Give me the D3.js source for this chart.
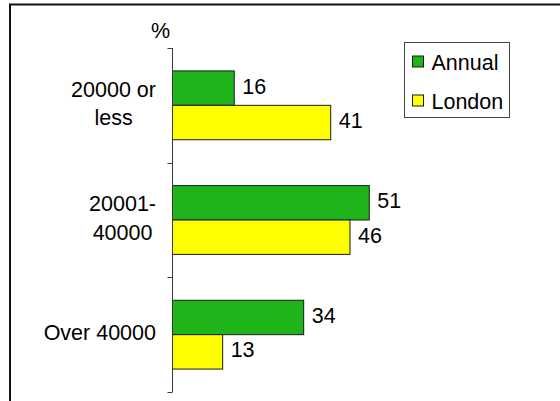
<!DOCTYPE html>
<html>
<head>
<meta charset="utf-8">
<script src="https://cdn.jsdelivr.net/npm/d3@7"></script>
<style>
  html, body { margin: 0; padding: 0; background: #fff; }
  svg { display: block; }
  text { font-family: "Liberation Sans", Arial, sans-serif; fill: #000; }
</style>
</head>
<body>
<svg id="chart" width="560" height="401"></svg>
<script>
// Income bands and the share (%) of each survey in each band
const categories = [["20000 or", "less"], ["20001-", "40000"], ["Over 40000"]];
const seriesNames = ["Annual", "London"];
const annual = [16, 51, 34];
const london = [41, 46, 13];
const colors = ["#20b41b", "#ffff00"];
const axisUnit = "%";

const svg = d3.select("#chart");
const fontSize = 21.5;

// Outer frame (extends past the right and bottom edges)
svg.append("rect")
  .attr("x", 10).attr("y", 4.5)
  .attr("width", 700).attr("height", 600)
  .attr("fill", "none").attr("stroke", "#111").attr("stroke-width", 2);

const catKeys = categories.map((c, i) => i);
const y = d3.scaleBand().domain(catKeys).range([48, 392]).paddingInner(0).paddingOuter(0);
const ySeries = d3.scaleBand().domain(seriesNames)
  .range([y.bandwidth() * 0.2, y.bandwidth() * 0.8]).paddingInner(0).paddingOuter(0);
const x = d3.scaleLinear().domain([0, 60]).range([172.5, 404]);

const rows = catKeys.map(i => ({ i, values: [annual[i], london[i]] }));

// Bars
const groups = svg.append("g").selectAll("g").data(rows).join("g")
  .attr("transform", d => `translate(0,${y(d.i)})`);

groups.selectAll("rect").data(d => d.values.map((v, k) => ({ v, k })))
  .join("rect")
  .attr("x", x(0))
  .attr("y", d => ySeries(seriesNames[d.k]))
  .attr("width", d => x(d.v) - x(0))
  .attr("height", ySeries.bandwidth())
  .attr("fill", d => colors[d.k])
  .attr("stroke", "#1a1a1a").attr("stroke-width", 1);

// Value labels
groups.selectAll("text.val").data(d => d.values.map((v, k) => ({ v, k })))
  .join("text")
  .attr("class", "val")
  .attr("x", d => x(d.v) + 8)
  .attr("y", d => ySeries(seriesNames[d.k]) + ySeries.bandwidth() / 2 + 5.5)
  .attr("font-size", fontSize)
  .text(d => d.v);

// Category axis: vertical line with ticks at band boundaries
const boundaries = catKeys.map(i => y(i)).concat([y.range()[1]]);
const axisG = svg.append("g").attr("stroke", "#3a3a3a").attr("stroke-width", 1);
axisG.append("line")
  .attr("x1", x(0)).attr("x2", x(0))
  .attr("y1", boundaries[0]).attr("y2", boundaries[boundaries.length - 1]);
axisG.selectAll("line.tick").data(boundaries).join("line")
  .attr("class", "tick")
  .attr("x1", x(0) - 5).attr("x2", x(0))
  .attr("y1", d => Math.round(d) + 0.5).attr("y2", d => Math.round(d) + 0.5);

// Category labels: block right-aligned, lines centred within the block
const labelRight = 156;
const lineGap = 28.5;
categories.forEach((lines, i) => {
  const cy = y(i) + y.bandwidth() / 2 + 5.5;
  const g = svg.append("g");
  const texts = lines.map((ln, j) => g.append("text")
    .attr("font-size", fontSize)
    .attr("text-anchor", "middle")
    .attr("y", cy + (j - (lines.length - 1) / 2) * lineGap)
    .text(ln));
  const widths = texts.map(t => t.node().getComputedTextLength());
  const blockW = d3.max(widths);
  texts.forEach(t => t.attr("x", labelRight - blockW / 2));
});

// Unit label above the axis
svg.append("text")
  .attr("x", x(0) - 12).attr("y", 38)
  .attr("font-size", fontSize)
  .attr("text-anchor", "middle")
  .text(axisUnit);

// Legend
const legend = svg.append("g");
legend.append("rect")
  .attr("x", 404.5).attr("y", 42.5).attr("width", 105).attr("height", 75)
  .attr("fill", "#fff").attr("stroke", "#444").attr("stroke-width", 1);
const legendRows = [69.5, 108.5];
seriesNames.forEach((name, k) => {
  legend.append("rect")
    .attr("x", 412.5).attr("y", legendRows[k] - 13.5)
    .attr("width", 11).attr("height", 11)
    .attr("fill", colors[k]).attr("stroke", "#1a1a1a").attr("stroke-width", 1);
  legend.append("text")
    .attr("x", 431.5).attr("y", legendRows[k])
    .attr("font-size", fontSize)
    .text(name);
});
</script>
</body>
</html>
